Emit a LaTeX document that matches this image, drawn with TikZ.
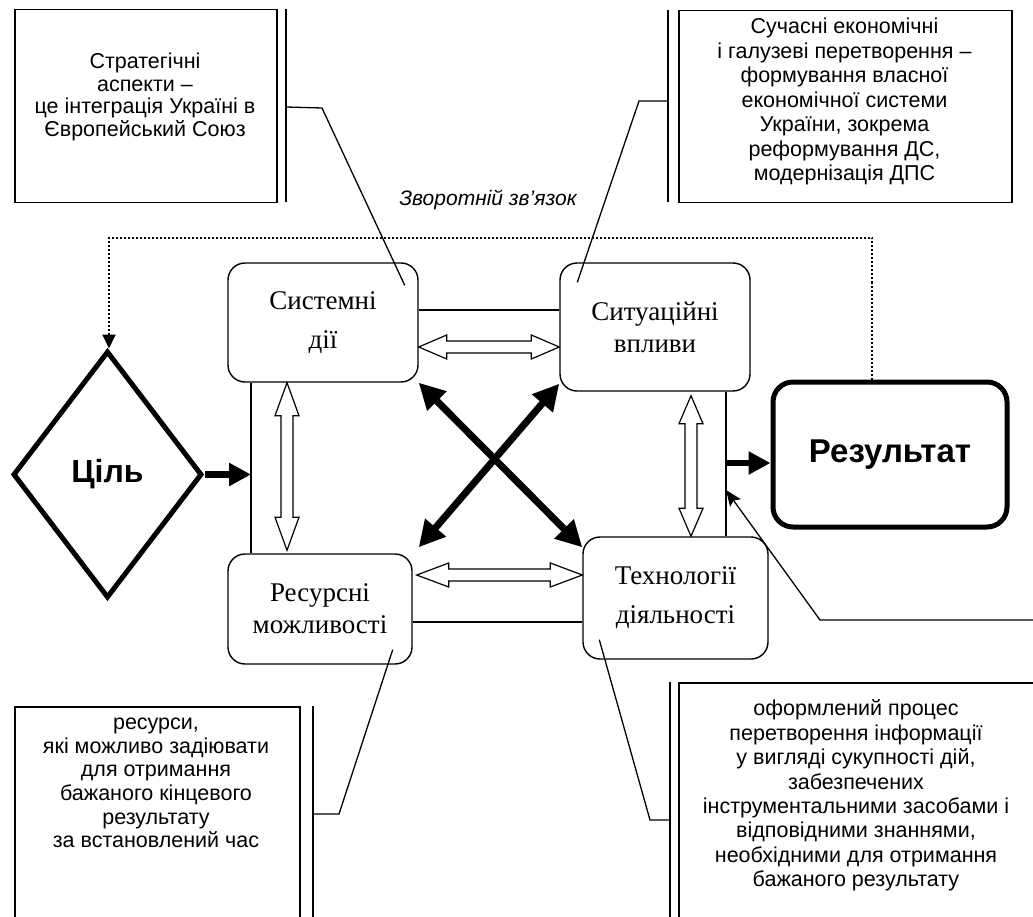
\documentclass[tikz,border=0pt]{standalone}
\usepackage{fontspec}
\setmainfont{Liberation Serif}
\newfontfamily\arialf{Liberation Sans}
\usetikzlibrary{shapes.geometric,arrows.meta,calc}
\tikzset{
  rbox/.style={draw, line width=1.4pt, rounded corners=17pt, align=center, inner sep=0pt},
  serifsz/.style={font=\fontsize{27}{#1}\selectfont},
  notebox/.style={draw, line width=1.5pt, inner sep=0pt, anchor=north west},
  notetext/.style={font=\arialf\fontsize{21.5}{#1}\selectfont, align=center, inner sep=0pt},
  barline/.style={line width=1.8pt},
  leader/.style={line width=1.3pt},
  frameline/.style={line width=1.4pt},
  hollow/.style={draw, line width=1.2pt, fill=white, line join=miter},
  xarrow/.style={line width=7pt, arrows={Triangle[length=26pt,width=26pt]-Triangle[length=26pt,width=26pt]}},
  fatarrow/.style={line width=6.5pt, arrows={-Triangle[length=22pt,width=22pt]}},
  feedback/.style={line width=2pt, dash pattern=on 2pt off 2pt, arrows={-Triangle[length=14pt,width=13pt]}},
}
\newcommand{\hollowH}[3]{\draw[hollow] (#1) -- ++(#3,-12) -- ++(0,6) -- ($(#2)+(-#3,-6)$) -- ++(0,-6) -- (#2) -- ++(-#3,12) -- ++(0,-6) -- ($(#1)+(#3,6)$) -- ++(0,6) -- cycle;}
\newcommand{\hollowV}[3]{\draw[hollow] (#1) -- ++(12,#3) -- ++(-6,0) -- ($(#2)+(6,-#3)$) -- ++(6,0) -- (#2) -- ++(-12,-#3) -- ++(6,0) -- ($(#1)+(-6,#3)$) -- ++(-6,0) -- cycle;}
\begin{document}
\begin{tikzpicture}[x=1pt,y=-1pt]
\useasboundingbox (0,0) rectangle (1033,917);
\clip (0,0) rectangle (1033,917);

% main boxes
\node[rbox, minimum width=190pt, minimum height=119pt, serifsz=39] (sys) at (323,322.5) {Системні\\дії};
\node[rbox, minimum width=190pt, minimum height=128pt, serifsz=32] (situ) at (655,327) {Ситуаційні\\впливи};
\node[rbox, minimum width=184pt, minimum height=110pt, serifsz=32] (resb) at (320,609) {Ресурсні\\можливості};
\node[rbox, minimum width=185pt, minimum height=122pt, serifsz=39] (tech) at (675.5,598) {Технології\\діяльності};

\node[draw, line width=5pt, rounded corners=20pt, minimum width=234pt, minimum height=145pt,
      font=\arialf\bfseries\fontsize{33}{38}\selectfont] (result) at (890,454.5) {Результат};
\node[diamond, draw, line width=5pt, minimum width=189pt, minimum height=247pt, inner sep=0pt,
      font=\arialf\bfseries\fontsize{32}{38}\selectfont] (goal) at (107.5,474.5) {Ціль};

% frame
\coordinate (ty) at (0,310);
\coordinate (by) at (0,622);
\coordinate (lx) at (251,0);
\coordinate (rx) at (726,0);
\draw[frameline] (sys.east |- ty) -- (situ.west |- ty);
\draw[frameline] (resb.east |- by) -- (tech.west |- by);
\draw[frameline] (sys.south -| lx) -- (resb.north -| lx);
\draw[frameline] (situ.south -| rx) -- (tech.north -| rx);

% fat arrows
\coordinate (gy) at (lx |- goal.east);
\draw[fatarrow] (goal.east) -- (gy);
\coordinate (ry) at (726,463);
\draw[fatarrow] (ry) -- (ry -| result.west);

% feedback
\coordinate (fb1) at (872,238);
\coordinate (fb2) at (109,238);
\draw[feedback] (result.north -| fb1) -- (fb1) -- (fb2) -- (goal.north -| fb2);
\node[font=\arialf\itshape\fontsize{21}{25}\selectfont] (fbtext) at (488,200) {Зворотній зв’язок};

% hollow double arrows
\coordinate (h1) at (0,347);
\coordinate (h1a) at (sys.east |- h1);
\coordinate (h1b) at (situ.west |- h1);
\hollowH{h1a}{h1b}{28}
\coordinate (h2) at (0,575);
\coordinate (h2a) at ($(resb.east |- h2)+(4,0)$);
\coordinate (h2b) at (tech.west |- h2);
\hollowH{h2a}{h2b}{32}
\coordinate (vx1) at (287,0);
\coordinate (v1a) at (sys.south -| vx1);
\coordinate (v1b) at ($(resb.north -| vx1)+(0,-3)$);
\hollowV{v1a}{v1b}{33}
\coordinate (vx2) at (691,0);
\coordinate (v2a) at ($(situ.south -| vx2)+(0,4)$);
\coordinate (v2b) at (tech.north -| vx2);
\hollowV{v2a}{v2b}{28}

% X arrows
\draw[xarrow] (sys.south east) -- ($(tech.north west)+(0,11)$);
\draw[xarrow] ($(situ.south west)+(0,-8)$) -- ($(resb.north east)+(6,-6)$);

% note boxes
\node[notebox, minimum width=262pt, minimum height=193pt] (n1) at (14,9) {};
\node[notetext=22.7] (t1) at (145,97) {Стратегічні\\аспекти –\\це інтеграція Україні в\\Європейський Союз};
\node[notebox, minimum width=333pt, minimum height=192pt] (n2) at (678,10) {};
\node[notetext=24.5] (t2) at (844.5,101.5) {Сучасні економічні\\і галузеві перетворення –\\формування власної\\економічної системи\\України, зокрема\\реформування ДС,\\модернізація ДПС};
\node[notebox, minimum width=285pt, minimum height=219pt] (n3) at (14,706) {};
\node[notetext=23.6] (t3) at (156,783) {ресурси,\\які можливо задіювати\\для отримання\\бажаного кінцевого\\результату\\за встановлений час};
\node[notebox, minimum width=362pt, minimum height=243pt] (n4) at (678,682) {};
\node[notetext=24.4] (t4) at (856,795.5) {оформлений процес\\перетворення інформації\\у вигляді сукупності дій,\\забезпечених\\інструментальними засобами і\\відповідними знаннями,\\необхідними для отримання\\бажаного результату};

% bars and leaders
\coordinate (b1t) at (286,9);
\coordinate (b1b) at (286,202);
\draw[barline] (b1t) -- (b1b);
\coordinate (b1m) at (286,107);
\coordinate (k1) at (322,108);
\draw[leader] (b1m) -- (k1) -- ($(sys.north east)+(-14,23)$);

\coordinate (b2t) at (668,10);
\coordinate (b2b) at (668,202);
\draw[barline] (b2t) -- (b2b);
\coordinate (b2m) at (668,101);
\coordinate (k2) at (639,101);
\draw[leader] (b2m) -- (k2) -- ($(situ.north west)+(18,20)$);

\coordinate (b3t) at (313,706);
\coordinate (b3b) at (313,925);
\draw[barline] (b3t) -- (b3b);
\coordinate (b3m) at (313,814);
\coordinate (k3) at (339,814);
\draw[leader] (b3m) -- (k3) -- ($(resb.south east)+(-20,-15)$);

\coordinate (b4t) at (670,682);
\coordinate (b4b) at (670,925);
\draw[barline] (b4t) -- (b4b);
\coordinate (b4m) at (670,820);
\coordinate (k4) at (650,820);
\draw[leader] (b4m) -- (k4) -- ($(tech.south west)+(17,-20)$);

\coordinate (rl1) at (1040,620);
\coordinate (rl2) at (820,620);
\coordinate (rtipy) at (0,490);
\coordinate (rtip) at (rx |- rtipy);
\draw[leader, arrows={-Stealth[length=16pt,width=13pt,inset=3pt]}] (rl1) -- (rl2) -- (rtip);
\end{tikzpicture}
\end{document}
